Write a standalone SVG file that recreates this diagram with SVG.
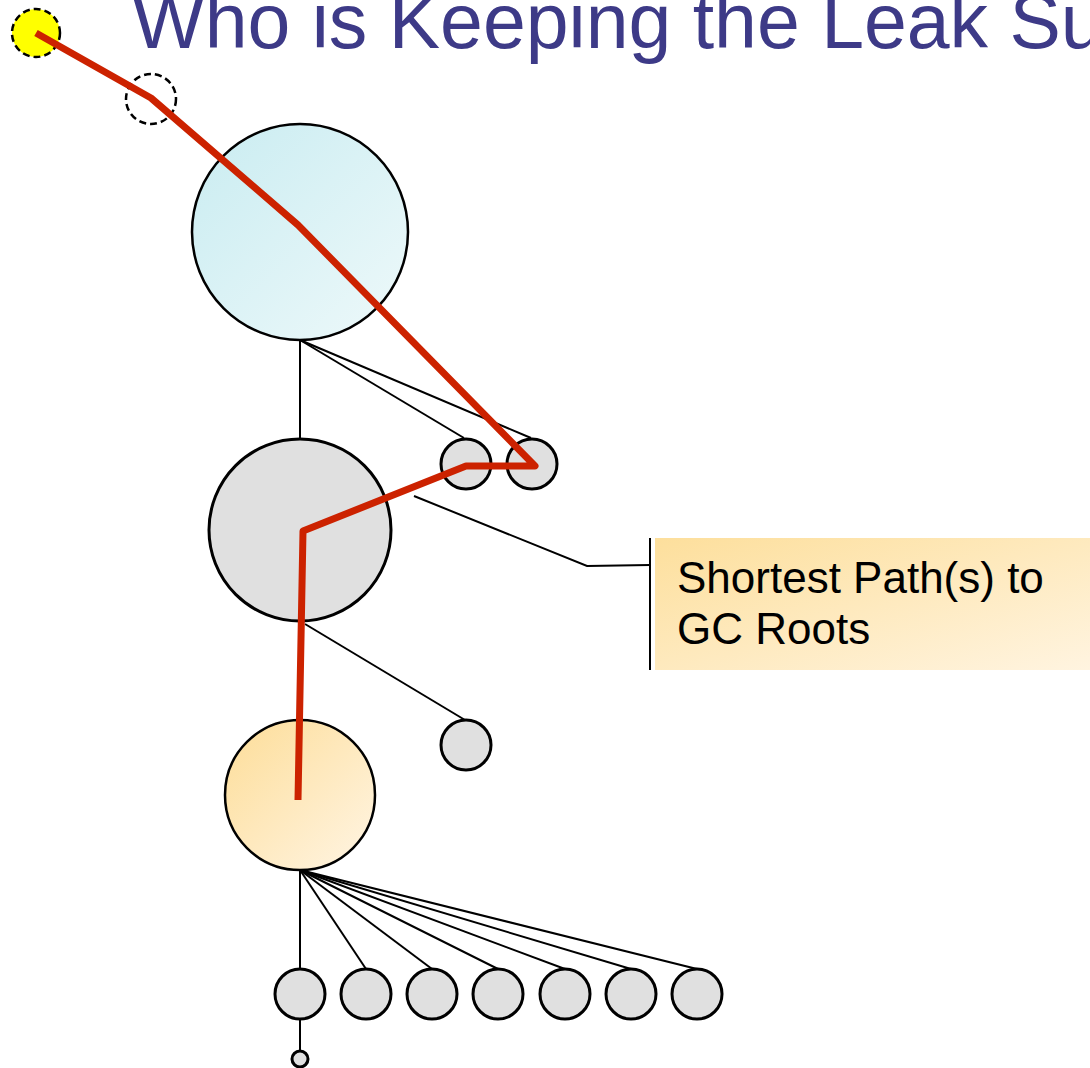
<svg xmlns="http://www.w3.org/2000/svg" width="1090" height="1068" viewBox="0 0 1090 1068">
  <style>
    .obj { fill: #e0e0e0; stroke: #000; stroke-width: 3; }
    .edge { stroke: #000; stroke-width: 2; fill: none; }
    .dash { stroke: #000; stroke-width: 2.5; stroke-dasharray: 7 4; }
    .title { font-family: "Liberation Sans", Arial, sans-serif; font-size: 77px; fill: #3d3a87; }
    .note { font-family: "Liberation Sans", Arial, sans-serif; font-size: 44px; fill: #000; }
  </style>
  <defs>
    <linearGradient id="gCyan" x1="0" y1="0" x2="1" y2="1">
      <stop offset="0" stop-color="#c9ecf1"/>
      <stop offset="1" stop-color="#eef9fa"/>
    </linearGradient>
    <linearGradient id="gOrange" x1="0" y1="0" x2="1" y2="1">
      <stop offset="0" stop-color="#fddd98"/>
      <stop offset="1" stop-color="#fff5e4"/>
    </linearGradient>
    <linearGradient id="gNote" x1="0" y1="0" x2="1" y2="1">
      <stop offset="0" stop-color="#fddf9c"/>
      <stop offset="1" stop-color="#fff4e0"/>
    </linearGradient>
  </defs>

  <rect width="1090" height="1068" fill="#fff"/>

  <text class="title" x="132" y="48">Who is Keeping the Leak Su</text>

  <!-- reference edges -->
  <g id="connectors">
    <line class="edge" x1="300" y1="340" x2="300" y2="439"/>
    <line class="edge" x1="300" y1="340" x2="464" y2="438"/>
    <line class="edge" x1="300" y1="340" x2="531" y2="438"/>
    <line class="edge" x1="300" y1="621" x2="300" y2="720"/>
    <line class="edge" x1="305" y1="624" x2="465" y2="720"/>
    <line class="edge" x1="300" y1="870" x2="300" y2="969"/>
    <line class="edge" x1="300" y1="870" x2="366" y2="969"/>
    <line class="edge" x1="300" y1="870" x2="432" y2="969"/>
    <line class="edge" x1="300" y1="870" x2="498" y2="969"/>
    <line class="edge" x1="300" y1="870" x2="565" y2="969"/>
    <line class="edge" x1="300" y1="870" x2="631" y2="969"/>
    <line class="edge" x1="300" y1="870" x2="697" y2="969"/>
    <line class="edge" x1="300" y1="1019" x2="300" y2="1051"/>
  </g>

  <!-- objects -->
  <g id="gc-root"><circle cx="36" cy="33" r="24" fill="#ffff00" class="dash"/></g>
  <g id="gc-root-2"><circle cx="151" cy="99" r="25" fill="none" class="dash"/></g>
  <g id="holder"><circle cx="300" cy="232" r="108" fill="url(#gCyan)" stroke="#000" stroke-width="2.5"/></g>
  <g id="container"><circle cx="300" cy="530" r="91" class="obj" stroke-width="2.5"/></g>
  <g id="ref-a"><circle cx="466" cy="464" r="25" class="obj"/></g>
  <g id="ref-b"><circle cx="532" cy="464" r="25" class="obj"/></g>
  <g id="ref-c"><circle cx="466" cy="745" r="25" class="obj"/></g>
  <g id="suspect"><circle cx="300" cy="795" r="75" fill="url(#gOrange)" stroke="#000" stroke-width="2.5"/></g>
  <g id="child-1"><circle cx="300" cy="994" r="25" class="obj"/></g>
  <g id="child-2"><circle cx="366" cy="994" r="25" class="obj"/></g>
  <g id="child-3"><circle cx="432" cy="994" r="25" class="obj"/></g>
  <g id="child-4"><circle cx="498" cy="994" r="25" class="obj"/></g>
  <g id="child-5"><circle cx="565" cy="994" r="25" class="obj"/></g>
  <g id="child-6"><circle cx="631" cy="994" r="25" class="obj"/></g>
  <g id="child-7"><circle cx="697" cy="994" r="25" class="obj"/></g>
  <g id="leaf"><circle cx="300" cy="1059" r="8" class="obj" stroke-width="2"/></g>

  <!-- shortest path to GC roots -->
  <g id="path">
    <polyline points="36,33 151,98 298,225 535,466 466,466 303,531 298,800" fill="none" stroke="#cc2200" stroke-width="7" stroke-linejoin="round"/>
  </g>

  <!-- callout -->
  <g id="callout">
    <polyline class="edge" points="414,496 587,566 650,565"/>
    <line class="edge" x1="650" y1="538" x2="650" y2="670" stroke-width="2.5"/>
    <rect x="655" y="538" width="435" height="132" fill="url(#gNote)"/>
    <text class="note" x="677" y="593">Shortest Path(s) to</text>
    <text class="note" x="677" y="644">GC Roots</text>
  </g>
</svg>
